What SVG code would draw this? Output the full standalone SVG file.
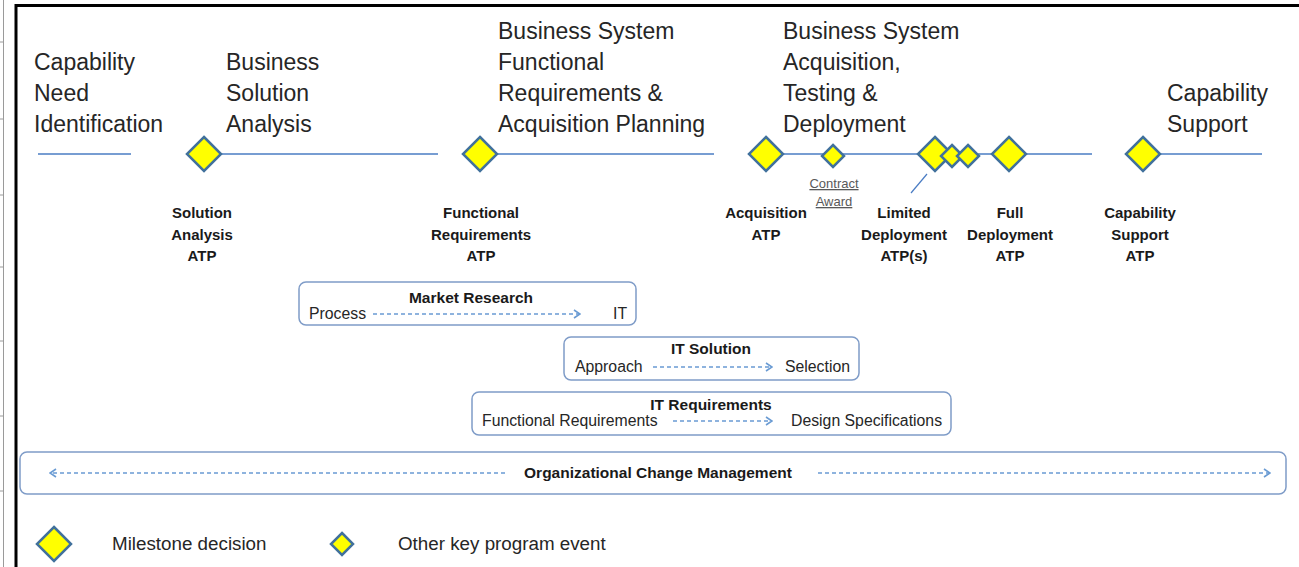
<svg xmlns="http://www.w3.org/2000/svg" width="1299" height="567" viewBox="0 0 1299 567">
<defs>
<style>
.head{font-family:"Liberation Sans",Arial,sans-serif;font-size:23px;fill:#262626}
.lbl{font-family:"Liberation Sans",Arial,sans-serif;font-size:15px;font-weight:bold;fill:#1a1a1a;text-anchor:middle}
.small{font-family:"Liberation Sans",Arial,sans-serif;font-size:13px;fill:#595959;text-anchor:middle;text-decoration:underline}
.btitle{font-family:"Liberation Sans",Arial,sans-serif;font-size:15.5px;font-weight:bold;fill:#1a1a1a;text-anchor:middle}
.btxt{font-family:"Liberation Sans",Arial,sans-serif;font-size:15.8px;fill:#262626}
.leg{font-family:"Liberation Sans",Arial,sans-serif;font-size:18.8px;fill:#262626}
.box{fill:#fff;stroke:#7f9cc8;stroke-width:1.5}
.dia{fill:#ffff00;stroke:#41719c;stroke-width:2.5;stroke-linejoin:miter}
.tl{stroke:#4a7cc3;stroke-width:1.5;fill:none}
.dash{stroke:#6a9bd3;stroke-width:1.5;stroke-dasharray:4 3;fill:none}
</style>
<marker id="ah" viewBox="0 0 8 10" refX="7" refY="5" markerWidth="8" markerHeight="10" markerUnits="userSpaceOnUse" orient="auto">
<path d="M1,1 L7,5 L1,9" fill="none" stroke="#6a9bd3" stroke-width="1.6"/>
</marker>
<path id="big" d="M0,-17 L17,0 L0,17 L-17,0 Z"/>
<path id="sm" d="M0,-11 L11,0 L0,11 L-11,0 Z"/>
</defs>
<rect width="1299" height="567" fill="#fff"/>
<g id="page-edge" stroke="#9a9a9a" stroke-width="1">
<line x1="3.5" y1="0" x2="3.5" y2="567"/>
<line x1="0" y1="42" x2="4" y2="42"/>
<line x1="0" y1="119" x2="4" y2="119"/>
<line x1="0" y1="195" x2="4" y2="195"/>
<line x1="0" y1="267" x2="4" y2="267"/>
<line x1="0" y1="341" x2="4" y2="341"/>
<line x1="0" y1="416" x2="4" y2="416"/>
<line x1="0" y1="491" x2="4" y2="491"/>
</g>
<rect id="frame" x="16" y="5.5" width="1300" height="600" fill="none" stroke="#000" stroke-width="3"/>

<g id="connectors">
<line class="tl" x1="38" y1="154" x2="131" y2="154"/>
<line class="tl" x1="204" y1="154" x2="438" y2="154"/>
<line class="tl" x1="480" y1="154" x2="714" y2="154"/>
<line class="tl" x1="766" y1="154" x2="1092" y2="154"/>
<line class="tl" x1="1143" y1="154" x2="1262" y2="154"/>
<line x1="927" y1="174" x2="911" y2="193" stroke="#4a7cc3" stroke-width="1.2"/>
</g>

<g id="phase-capability-need">
<text class="head" x="34" y="70">Capability</text>
<text class="head" x="34" y="101">Need</text>
<text class="head" x="34" y="132">Identification</text>
</g>
<g id="phase-business-solution">
<text class="head" x="226" y="70">Business</text>
<text class="head" x="226" y="101">Solution</text>
<text class="head" x="226" y="132">Analysis</text>
</g>
<g id="phase-functional-req">
<text class="head" x="498" y="39">Business System</text>
<text class="head" x="498" y="70">Functional</text>
<text class="head" x="498" y="101">Requirements &amp;</text>
<text class="head" x="498" y="132">Acquisition Planning</text>
</g>
<g id="phase-acquisition">
<text class="head" x="783" y="39">Business System</text>
<text class="head" x="783" y="70">Acquisition,</text>
<text class="head" x="783" y="101">Testing &amp;</text>
<text class="head" x="783" y="132">Deployment</text>
</g>
<g id="phase-capability-support">
<text class="head" x="1167" y="101">Capability</text>
<text class="head" x="1167" y="132">Support</text>
</g>

<g id="ms-solution-analysis">
<use href="#big" class="dia" x="204" y="154"/>
<text class="lbl" x="202" y="218">Solution</text>
<text class="lbl" x="202" y="240">Analysis</text>
<text class="lbl" x="202" y="261">ATP</text>
</g>
<g id="ms-functional-req">
<use href="#big" class="dia" x="480" y="154"/>
<text class="lbl" x="481" y="218">Functional</text>
<text class="lbl" x="481" y="240">Requirements</text>
<text class="lbl" x="481" y="261">ATP</text>
</g>
<g id="ms-acquisition">
<use href="#big" class="dia" x="766" y="154"/>
<text class="lbl" x="766" y="218">Acquisition</text>
<text class="lbl" x="766" y="240">ATP</text>
</g>
<g id="ev-contract-award">
<use href="#sm" class="dia" x="833" y="156"/>
<text class="small" x="834" y="188">Contract</text>
<text class="small" x="834" y="206">Award</text>
</g>
<g id="ms-limited-deployment">
<use href="#big" class="dia" x="935" y="154"/>
<use href="#sm" class="dia" x="952" y="156"/>
<use href="#sm" class="dia" x="968" y="156"/>
<text class="lbl" x="904" y="218">Limited</text>
<text class="lbl" x="904" y="240">Deployment</text>
<text class="lbl" x="904" y="261">ATP(s)</text>
</g>
<g id="ms-full-deployment">
<use href="#big" class="dia" x="1009" y="154"/>
<text class="lbl" x="1010" y="218">Full</text>
<text class="lbl" x="1010" y="240">Deployment</text>
<text class="lbl" x="1010" y="261">ATP</text>
</g>
<g id="ms-capability-support">
<use href="#big" class="dia" x="1143" y="154"/>
<text class="lbl" x="1140" y="218">Capability</text>
<text class="lbl" x="1140" y="240">Support</text>
<text class="lbl" x="1140" y="261">ATP</text>
</g>

<g id="box-market-research">
<rect class="box" x="299" y="282" width="337" height="43" rx="7"/>
<text class="btitle" x="471" y="303">Market Research</text>
<text class="btxt" x="309" y="319">Process</text>
<text class="btxt" x="613" y="319">IT</text>
<line class="dash" x1="373" y1="314" x2="580" y2="314" marker-end="url(#ah)"/>
</g>
<g id="box-it-solution">
<rect class="box" x="564" y="337" width="295" height="43" rx="7"/>
<text class="btitle" x="711" y="354">IT Solution</text>
<text class="btxt" x="575" y="372">Approach</text>
<text class="btxt" x="785" y="372">Selection</text>
<line class="dash" x1="653" y1="367" x2="772" y2="367" marker-end="url(#ah)"/>
</g>
<g id="box-it-requirements">
<rect class="box" x="472" y="392" width="479" height="43" rx="7"/>
<text class="btitle" x="711" y="410">IT Requirements</text>
<text class="btxt" x="482" y="426">Functional Requirements</text>
<text class="btxt" x="791" y="426">Design Specifications</text>
<line class="dash" x1="673" y1="421" x2="772" y2="421" marker-end="url(#ah)"/>
</g>
<g id="box-ocm">
<rect class="box" x="20" y="452" width="1266" height="42" rx="7"/>
<text class="btitle" x="658" y="478">Organizational Change Management</text>
<line class="dash" x1="505" y1="473" x2="50" y2="473" marker-end="url(#ah)"/>
<line class="dash" x1="818" y1="473" x2="1270" y2="473" marker-end="url(#ah)"/>
</g>

<g id="legend">
<use href="#big" class="dia" x="54" y="544"/>
<text class="leg" x="112" y="550">Milestone decision</text>
<use href="#sm" class="dia" x="342" y="544"/>
<text class="leg" x="398" y="550">Other key program event</text>
</g>
</svg>
